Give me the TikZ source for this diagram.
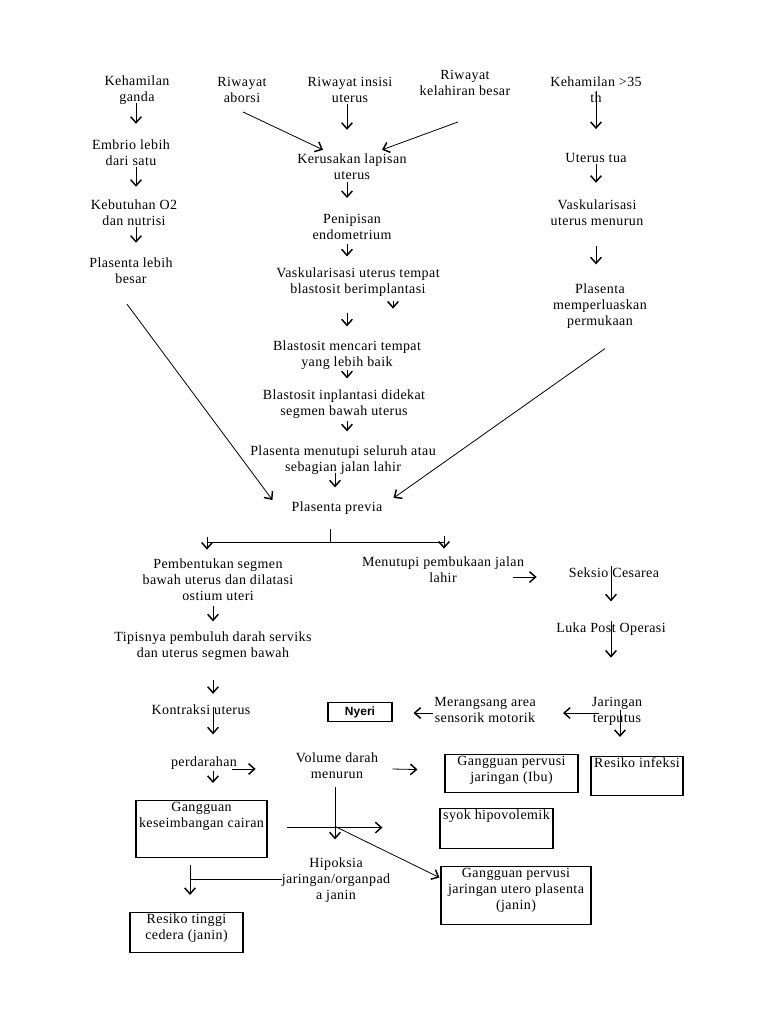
\documentclass[tikz,border=0pt]{standalone}
\usepackage{fontspec}
\setmainfont{Liberation Serif}[LetterSpace=3]
\newfontfamily\nyerifont{Liberation Sans}
\usetikzlibrary{arrows.meta,calc}
\newcommand{\bxtxt}[3]{\parbox[t][#2][t]{#1}{\centering\strut #3\par}}
\tikzset{
  txt/.style = { align=center, inner sep=0pt },
  box/.style = { draw, line width=0.8pt, inner sep=0pt, anchor=north },
  arr/.style = { line width=0.6pt, -{Straight Barb[length=4.5pt,width=8pt,line width=1.1pt]} },
  ln/.style  = { line width=0.6pt }
}
\begin{document}
\begin{tikzpicture}[x=0.75pt,y=-0.75pt,font=\fontsize{10.5}{12}\selectfont]
  \fill[white] (0,0) rectangle (768,1024);
  \useasboundingbox (0,0) rectangle (768,1024);
  % Upper part: causes
  \node[txt] (kg)  at (137,90)  {Kehamilan\\ganda};
  \node[txt] (emb) at (131,153) {Embrio lebih\\dari satu};
  \node[txt] (kbo) at (134,213) {Kebutuhan O2\\dan nutrisi};
  \node[txt] (plb) at (131,271) {Plasenta lebih\\besar};
  \node[txt] (ra)  at (242,90)  {Riwayat\\aborsi};
  \node[txt] (ri)  at (350,90)  {Riwayat insisi\\uterus};
  \node[txt] (rk)  at (465,83)  {Riwayat\\kelahiran besar};
  \node[txt] (klu) at (352,167) {Kerusakan lapisan\\uterus};
  \node[txt] (pen) at (352,227) {Penipisan\\endometrium};
  \node[txt] (vut) at (358,282) {Vaskularisasi uterus tempat\\blastosit berimplantasi};
  \node[txt] (bmt) at (347,355) {Blastosit mencari tempat\\yang lebih baik};
  \node[txt] (bid) at (344,404) {Blastosit inplantasi didekat\\segmen bawah uterus};
  \node[txt] (pms) at (343,460) {Plasenta menutupi seluruh atau\\sebagian jalan lahir};
  \node[txt] (pp)  at (337,508) {Plasenta previa};
  \node[txt] (k35) at (596,90)  {Kehamilan >35\\th};
  \node[txt] (ut)  at (596,158) {Uterus tua};
  \node[txt] (vum) at (597,213) {Vaskularisasi\\uterus menurun};
  \node[txt] (pmp) at (600,306) {Plasenta\\memperluaskan\\permukaan};
  % Lower part: effects
  \node[txt] (psb) at (218,580) {Pembentukan segmen\\bawah uterus dan dilatasi\\ostium uteri};
  \node[txt] (mpj) at (443,570) {Menutupi pembukaan jalan\\lahir};
  \node[txt] (sc)  at (614,573) {Seksio Cesarea};
  \node[txt] (lpo) at (611,629) {Luka Post Operasi};
  \node[txt] (tpd) at (213,646) {Tipisnya pembuluh darah serviks\\dan uterus segmen bawah};
  \node[txt] (ku)  at (201,710) {Kontraksi uterus};
  \node[txt] (jt)  at (617,711) {Jaringan\\terputus};
  \node[txt] (mas) at (485,710) {Merangsang area\\sensorik motorik};
  \node[box, anchor=center, minimum width=48pt, minimum height=14.25pt] (nyeri) at (360,712)
    {\nyerifont\bfseries\fontsize{9}{10}\selectfont Nyeri};
  \node[txt] (prd) at (204,763) {perdarahan};
  \node[txt] (vdm) at (337,766) {Volume darah\\menurun};
  \node[box] (gpi) at (511.5,754) {\bxtxt{99.75pt}{28.5pt}{Gangguan pervusi\\jaringan (Ibu)}};
  \node[box] (rin) at (637,756)   {\bxtxt{69pt}{29.25pt}{Resiko infeksi}};
  \node[box] (gkc) at (201.5,800) {\bxtxt{98.25pt}{42.75pt}{Gangguan\\keseimbangan cairan}};
  \node[box] (sh)  at (496.5,808) {\bxtxt{84.75pt}{30pt}{syok hipovolemik}};
  \node[txt] (hjj) at (336,880)   {Hipoksia\\jaringan/organpad\\a janin};
  \node[box] (gpu) at (516,866)   {\bxtxt{112.5pt}{43.5pt}{Gangguan pervusi\\jaringan utero plasenta\\(janin)}};
  \node[box] (rtc) at (186.5,912) {\bxtxt{84.75pt}{30pt}{Resiko tinggi\\cedera (janin)}};
  % Arrows, upper part
  \draw[arr] ($(kg.south)+(-1,-2)$)  -- ($(emb.north)+(5,-16)$);
  \draw[arr] ($(emb.south)+(5,1)$)   -- ($(kbo.north)+(2,-13)$);
  \draw[arr] ($(kbo.south)+(2,1)$)   -- ($(plb.north)+(5,-15)$);
  \draw[arr] ($(plb.south)+(-4,20)$) -- ($(pp.west)+(-19,-8)$);
  \draw[arr] ($(ra.south)+(1,9)$)    -- ($(klu.north)+(-29,-4)$);
  \draw[arr] ($(ri.south)+(-3,1)$)   -- ($(klu.north)+(-5,-24)$);
  \draw[arr] ($(rk.south)+(-7,26)$)  -- ($(klu.north)+(30,-4)$);
  \draw[arr] ($(klu.south)+(-5,2)$)  -- ($(pen.north)+(-5,-16)$);
  \draw[arr] ($(pen.south)+(-5,4)$)  -- ($(vut.north)+(-11,-11)$);
  \draw[arr] ($(vut.south)+(35,4)$)  -- ($(vut.south)+(35,12)$);
  \draw[arr] ($(vut.south)+(-11,16)$) -- ($(bmt.north)+(0,-14)$);
  \draw[arr] (bmt.south)             -- ($(bid.north)+(3,-11)$);
  \draw[arr] ($(bid.south)+(3,2)$)   -- ($(pms.north)+(4,-14)$);
  \draw[arr] ($(pms.south)+(-8,-2)$) -- ($(pp.north)+(-2,-14)$);
  \draw[arr] ($(k35.south)+(0,-12)$) -- ($(ut.north)+(0,-24)$);
  \draw[arr] ($(ut.south)+(0,1)$)    -- ($(vum.north)+(-1,-17)$);
  \draw[arr] ($(vum.south)+(-1,20)$) -- ($(pmp.north)+(-4,-19)$);
  \draw[arr] ($(pmp.south)+(5,20)$)  -- ($(pp.east)+(11,-10)$);
  % Branch below Plasenta previa
  \coordinate (br) at ($(pp.south)+(-7,28)$);
  \draw[ln] ($(pp.south)+(-7,14)$) -- (br);
  \draw[ln] ($(br)+(-123,0)$) -- ($(br)+(114,0)$);
  \draw[arr] ($(br)+(-123,-6)$) -- ($(br)+(-123,7)$);
  \draw[arr] ($(br)+(114,-7)$)  -- ($(br)+(114,6)$);
  % Arrows, lower part
  \draw[arr] ($(mpj.east)+(-11,7)$)  -- ($(sc.west)+(-32,4)$);
  \draw[arr] ($(sc.north)+(-3,-2)$)  -- ($(lpo.north)+(0,-21)$);
  \draw[arr] ($(lpo.north)+(0,-1)$)  -- ($(jt.north)+(-6,-39)$);
  \draw[arr] ($(jt.center)+(3,-1)$)  -- ($(rin.north)+(-17,-19)$);
  \draw[arr] ($(jt.west)+(7,2)$)     -- ($(mas.east)+(27,3)$);
  \draw[arr] ($(mas.west)+(-1,3)$)   -- ($(nyeri.east)+(21,1)$);
  \draw[arr] ($(psb.south)+(-5,5)$)  -- ($(tpd.north)+(0,-10)$);
  \draw[arr] ($(tpd.south)+(0,19)$)  -- ($(ku.north)+(12,-11)$);
  \draw[arr] ($(ku.center)+(12,-3)$) -- ($(prd.north)+(9,-22)$);
  \draw[arr] ($(prd.south)+(9,1)$)   -- ($(gkc.north)+(11.5,-17)$);
  \draw[arr] ($(prd.east)+(-5,6)$)   -- ($(vdm.west)+(-40,3)$);
  \draw[arr] ($(vdm.east)+(14,3)$)   -- ($(gpi.west)+(-27,-4)$);
  \draw[arr] ($(vdm.south)+(-2,8)$)  -- ($(hjj.north)+(-1,-18)$);
  \draw[arr] ($(gkc.east)+(19,-1.5)$) -- ($(sh.west)+(-57,-1)$);
  \draw[arr] ($(hjj.north)+(-1,-31)$) -- ($(gpu.west)+(-1,-18)$);
  \draw[arr] ($(gkc.south)+(-11.5,7)$) -- ($(rtc.north)+(3.5,-17)$);
  \coordinate (rv) at ($(rtc.north)+(3.5,-33)$);
  \draw[ln] ($(hjj.west)+(0,-1)$) -- ($(hjj.west -| rv)+(0,-1)$);
\end{tikzpicture}
\end{document}
